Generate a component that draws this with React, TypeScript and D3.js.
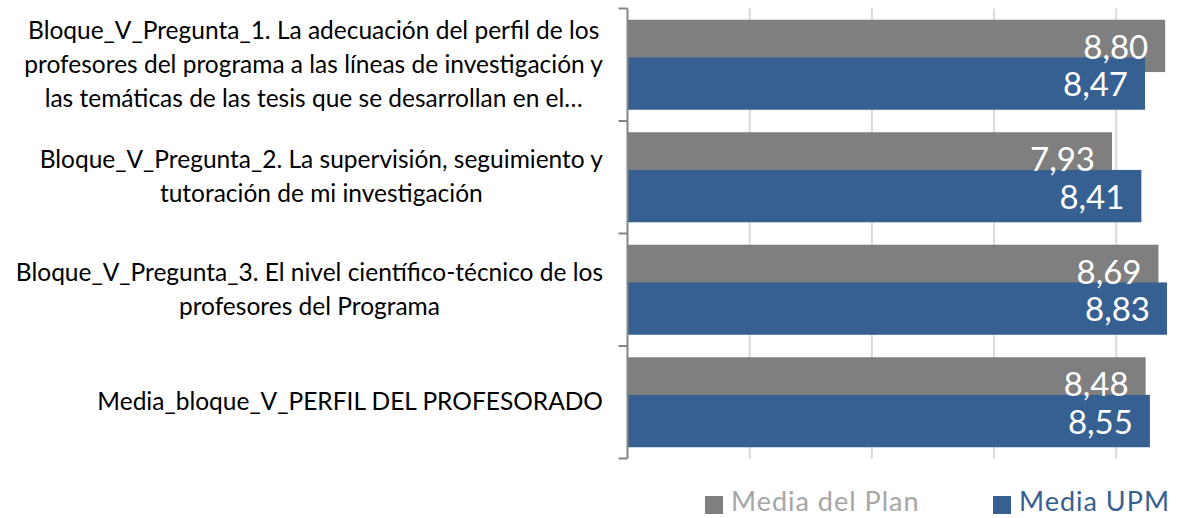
import { useEffect, useRef } from 'react';
import * as d3 from 'd3';

const categories = [
  [
    'Bloque_V_Pregunta_1. La adecuación del perfil de los',
    'profesores del programa a las líneas de investigación y',
    'las temáticas de las tesis que se desarrollan en el…',
  ],
  ['Bloque_V_Pregunta_2. La supervisión, seguimiento y', 'tutoración de mi investigación'],
  ['Bloque_V_Pregunta_3. El nivel científico-técnico de los', 'profesores del Programa'],
  ['Media_bloque_V_PERFIL DEL PROFESORADO'],
];
const seriesNames = ['Media del Plan', 'Media UPM'];
const mediaPlan = [8.8, 7.93, 8.69, 8.48];
const mediaUPM = [8.47, 8.41, 8.83, 8.55];
const gridTicks = [2, 4, 6, 8];

const GRAY = '#7f7f7f';
const BLUE = '#376092';

export default function App() {
  const svgRef = useRef<SVGSVGElement | null>(null);

  useEffect(() => {
    if (!svgRef.current) return;
    const svg = d3.select(svgRef.current);
    svg.selectAll('*').remove();

    const x0 = 627.5;
    const x = d3.scaleLinear().domain([0, 9]).range([x0, x0 + 61.1 * 9]);
    const y = d3
      .scaleBand<number>()
      .domain(d3.range(categories.length))
      .range([8.5, 458.5])
      .padding(0);
    const bw = y.bandwidth();
    const barH = bw * 0.465;

    // gridlines
    svg
      .append('g')
      .selectAll('line')
      .data(gridTicks)
      .join('line')
      .attr('x1', d => x(d))
      .attr('x2', d => x(d))
      .attr('y1', 8.5)
      .attr('y2', 458.5)
      .attr('stroke', '#d9d9d9')
      .attr('stroke-width', 2);

    const series = [
      { name: seriesNames[0], values: mediaPlan, color: GRAY, off: 0.1 },
      { name: seriesNames[1], values: mediaUPM, color: BLUE, off: 0.435 },
    ];

    series.forEach(s => {
      svg
        .append('g')
        .selectAll('rect')
        .data(s.values)
        .join('rect')
        .attr('x', x(0))
        .attr('y', (_, i) => (y(i) as number) + bw * s.off)
        .attr('width', d => x(d) - x(0))
        .attr('height', barH)
        .attr('fill', s.color);
    });

    series.forEach(s => {
      svg
        .append('g')
        .selectAll('text')
        .data(s.values)
        .join('text')
        .attr('x', d => x(d) - 17)
        .attr('y', (_, i) => (y(i) as number) + bw * s.off + 39)
        .attr('text-anchor', 'end')
        .attr('fill', '#ffffff')
        .attr('font-family', 'Lato, sans-serif')
        .attr('font-size', 33)
        .text(d => d.toFixed(2).replace('.', ','));
    });

    // axis line with ticks
    const axis = svg.append('g');
    axis
      .append('line')
      .attr('x1', x0)
      .attr('x2', x0)
      .attr('y1', 8.5)
      .attr('y2', 458.5)
      .attr('stroke', '#868686')
      .attr('stroke-width', 2);
    axis
      .selectAll('line.tick')
      .data(d3.range(categories.length + 1))
      .join('line')
      .attr('class', 'tick')
      .attr('x1', x0 - 9)
      .attr('x2', x0)
      .attr('y1', i => 8.5 + i * bw)
      .attr('y2', i => 8.5 + i * bw)
      .attr('stroke', '#868686')
      .attr('stroke-width', 2);

    // category labels: block centred, widest line right edge at 603
    const lineH = 34;
    categories.forEach((lines, i) => {
      const g = svg.append('g');
      const cy = (y(i) as number) + bw / 2;
      const texts = g
        .selectAll('text')
        .data(lines)
        .join('text')
        .attr('y', (_, j) => cy + (j - (lines.length - 1) / 2) * lineH + 8)
        .attr('text-anchor', 'middle')
        .attr('fill', '#000000')
        .attr('font-family', 'Lato, sans-serif')
        .attr('font-size', 24.5)
        .text(d => d);
      let maxW = 0;
      texts.each(function () {
        maxW = Math.max(maxW, (this as SVGTextElement).getComputedTextLength());
      });
      texts.attr('x', 603 - maxW / 2);
    });

    // legend
    const legend = [
      { name: seriesNames[0], color: GRAY, text: '#a6a6a6', sx: 705, tx: 731 },
      { name: seriesNames[1], color: BLUE, text: BLUE, sx: 993, tx: 1019 },
    ];
    const lg = svg.append('g');
    legend.forEach(l => {
      lg.append('rect')
        .attr('x', l.sx)
        .attr('y', 496)
        .attr('width', 18)
        .attr('height', 18)
        .attr('fill', l.color);
      lg.append('text')
        .attr('x', l.tx)
        .attr('y', 511)
        .attr('fill', l.text)
        .attr('font-family', 'Lato, sans-serif')
        .attr('font-size', 27)
        .attr('letter-spacing', 1)
        .text(l.name);
    });
  }, []);

  return (
    <svg
      ref={svgRef}
      width={1177}
      height={518}
      style={{ position: 'absolute', left: 0, top: 0, background: '#ffffff' }}
    />
  );
}
